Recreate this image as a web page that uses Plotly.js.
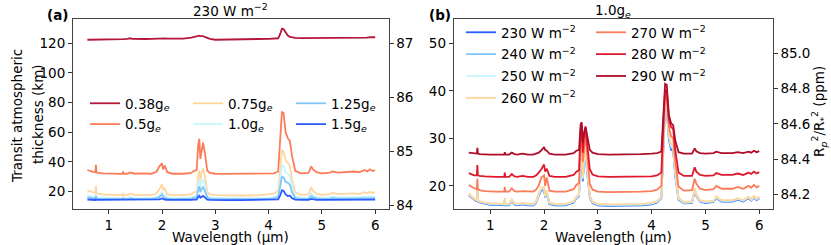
<!DOCTYPE html>
<html>
<head>
<meta charset="utf-8">
<script src="https://cdn.plot.ly/plotly-3.0.1.min.js"></script>
<style>html,body{margin:0;padding:0;background:#fff;}#chart{width:831px;height:245px;}</style>
</head>
<body>
<div id="chart"></div>
<script>
// Wavelength grid (µm)
const wavelength = [0.60,0.65,0.70,0.75,0.76,0.77,0.80,0.90,1.00,1.10,1.20,1.26,1.27,1.28,1.35,1.40,1.45,1.50,1.60,1.70,1.80,1.85,1.90,1.95,2.00,2.02,2.05,2.10,2.20,2.40,2.55,2.60,2.65,2.68,2.70,2.72,2.74,2.77,2.80,2.85,2.90,3.00,3.20,3.50,3.80,4.00,4.10,4.18,4.22,4.25,4.28,4.32,4.36,4.40,4.44,4.50,4.60,4.75,4.80,4.83,4.90,5.00,5.15,5.20,5.30,5.50,5.60,5.70,5.80,5.85,5.90,5.95,6.00];

// Panel (a): 230 W m^-2, transit atmospheric thickness (km)
const gravityLabels = ["0.38g<sub><i>e</i></sub>","0.5g<sub><i>e</i></sub>","0.75g<sub><i>e</i></sub>","1.0g<sub><i>e</i></sub>","1.25g<sub><i>e</i></sub>","1.5g<sub><i>e</i></sub>"];
const g038 = [122.4,122.4,122.4,122.5,122.7,122.5,122.5,122.6,122.6,122.7,122.7,122.8,122.9,122.8,123.0,123.4,123.0,122.9,122.9,122.9,123.0,123.1,123.4,123.5,123.6,123.4,123.3,123.1,123.0,123.2,123.8,124.2,124.6,124.9,125.2,124.8,125.0,124.9,124.3,123.6,123.0,122.4,122.4,122.7,122.9,123.0,123.1,123.4,126.5,129.8,129.6,127.0,125.2,124.4,123.9,123.6,123.5,123.5,123.7,123.6,123.5,123.5,123.6,123.7,123.6,123.7,123.8,123.7,124.0,123.8,124.2,123.9,124.1];
const g05 = [34.5,33.8,33.2,33.0,38.0,33.0,32.6,32.2,32.0,31.9,31.9,32.0,33.5,32.0,32.0,32.8,32.2,32.0,32.2,31.9,32.0,32.5,33.5,37.0,39.0,35.0,37.5,33.0,32.0,32.0,32.6,34.0,34.5,52.0,55.5,42.0,48.0,53.0,47.0,34.0,32.5,32.0,31.9,31.9,31.9,32.0,32.3,33.5,55.0,73.5,73.0,60.0,56.0,54.0,44.0,34.0,32.3,32.5,37.0,35.0,33.0,32.3,32.8,33.5,32.8,33.0,33.5,33.0,34.5,33.5,35.0,33.8,34.5];
const g075 = [20.8,20.0,19.5,19.0,24.0,19.0,18.5,18.0,17.7,17.5,17.5,17.6,19.0,17.6,17.6,18.5,17.8,17.6,17.6,17.5,17.6,18.0,19.0,21.5,25.0,21.0,22.0,18.0,17.5,17.5,18.2,19.5,20.0,31.0,34.0,27.0,32.0,35.5,31.0,20.0,18.0,17.5,17.3,17.3,17.4,17.8,18.5,20.5,36.0,47.5,47.0,41.0,39.5,37.0,28.0,19.5,17.8,18.0,23.0,20.5,18.5,17.8,18.2,19.0,18.2,18.3,18.8,18.3,19.5,18.8,19.8,19.0,19.5];
const g10 = [17.3,16.8,16.4,16.2,18.5,16.2,16.0,15.8,15.7,15.6,15.6,15.6,16.5,15.6,15.6,16.2,15.7,15.6,15.6,15.6,15.6,15.9,16.5,17.5,20.0,18.0,17.5,16.0,15.6,15.6,16.0,16.8,17.2,26.0,28.5,23.0,26.0,28.0,25.0,17.0,16.0,15.6,15.5,15.5,15.5,15.7,16.2,17.5,29.0,37.5,37.0,33.0,32.0,30.0,23.0,16.8,15.8,15.9,19.0,17.5,16.2,15.8,16.0,16.5,16.0,16.0,16.3,16.0,16.6,16.2,16.8,16.3,16.6];
const g125 = [16.0,15.6,15.3,15.2,17.0,15.2,15.1,15.0,14.9,14.9,14.9,14.9,15.6,14.9,14.9,15.3,15.0,14.9,14.9,14.9,14.9,15.1,15.5,16.2,18.0,16.5,16.0,15.1,14.9,14.9,15.2,15.7,16.0,21.0,23.5,19.5,21.5,23.0,21.0,15.8,15.2,14.9,14.8,14.8,14.8,14.9,15.3,16.2,24.0,30.0,29.5,26.5,26.0,24.5,19.5,15.6,15.0,15.1,17.0,16.0,15.3,15.0,15.2,15.5,15.2,15.2,15.4,15.2,15.6,15.3,15.7,15.4,15.6];
const g15 = [14.6,14.5,14.4,14.3,15.0,14.3,14.3,14.3,14.2,14.2,14.2,14.2,14.5,14.2,14.2,14.4,14.2,14.2,14.2,14.2,14.2,14.3,14.4,14.7,15.3,14.8,14.6,14.3,14.2,14.2,14.3,14.5,14.6,16.5,17.2,15.8,16.5,17.0,16.2,14.5,14.3,14.2,14.2,14.2,14.2,14.2,14.4,14.7,17.5,20.8,20.5,18.0,17.0,17.2,15.5,14.5,14.3,14.3,15.0,14.7,14.4,14.3,14.3,14.5,14.3,14.3,14.4,14.3,14.5,14.4,14.6,14.4,14.5];

// Panel (b): 1.0g_e, different instellations
const fluxLabels = ["230 W m<sup>−2</sup>","240 W m<sup>−2</sup>","250 W m<sup>−2</sup>","260 W m<sup>−2</sup>","270 W m<sup>−2</sup>","280 W m<sup>−2</sup>","290 W m<sup>−2</sup>"];
const f230 = [18.0,17.5,17.0,16.7,19.0,16.7,16.5,16.2,16.0,16.0,15.9,15.9,17.0,15.9,15.9,16.8,16.1,15.9,16.1,15.9,15.9,16.4,18.0,19.0,19.2,17.6,18.5,16.2,15.9,15.9,16.5,17.4,17.8,26.0,26.5,21.0,24.5,26.8,23.0,17.6,16.4,15.9,15.8,15.8,15.9,16.1,16.5,17.4,29.5,36.5,36.3,29.8,27.6,27.5,22.0,17.1,16.3,16.4,19.0,17.9,16.7,16.4,16.6,17.4,16.7,16.7,17.1,16.7,17.4,16.9,17.5,17.0,17.4];
const f240 = [18.1,17.6,17.1,16.8,19.2,16.8,16.6,16.3,16.1,16.1,16.0,16.0,17.2,16.0,16.0,16.9,16.2,16.0,16.2,16.0,16.0,16.5,18.2,19.2,19.4,17.7,18.7,16.3,16.0,16.0,16.6,17.5,17.9,26.5,27.0,21.3,24.8,27.2,23.3,17.7,16.5,16.0,15.9,15.9,16.0,16.2,16.6,17.5,29.8,37.0,36.8,30.2,28.0,27.8,22.3,17.2,16.4,16.5,19.2,18.0,16.8,16.5,16.7,17.5,16.8,16.8,17.2,16.8,17.5,17.0,17.6,17.1,17.5];
const f250 = [18.2,17.7,17.2,16.9,19.5,16.9,16.7,16.4,16.2,16.2,16.1,16.1,17.3,16.1,16.1,17.0,16.3,16.1,16.3,16.1,16.1,16.6,18.3,19.3,19.6,17.8,18.8,16.4,16.1,16.1,16.7,17.6,18.0,27.0,27.5,21.6,25.1,27.6,23.6,17.8,16.6,16.1,16.0,16.0,16.1,16.3,16.7,17.6,30.2,37.5,37.3,30.6,28.4,28.1,22.6,17.3,16.5,16.6,19.3,18.1,16.9,16.6,16.8,17.6,16.9,16.9,17.3,16.9,17.6,17.1,17.7,17.2,17.6];
const f260 = [18.4,17.8,17.3,17.0,19.8,17.0,16.8,16.5,16.3,16.3,16.2,16.2,17.5,16.2,16.2,17.2,16.4,16.2,16.4,16.2,16.2,16.8,18.5,19.5,19.8,18.0,19.0,16.5,16.2,16.2,16.8,17.8,18.2,27.5,28.0,22.0,25.5,28.0,24.0,18.0,16.7,16.2,16.1,16.1,16.2,16.4,16.8,17.8,30.5,38.0,37.8,31.0,28.8,28.5,23.0,17.5,16.6,16.7,19.5,18.3,17.0,16.7,16.9,17.8,17.0,17.0,17.4,17.0,17.7,17.2,17.9,17.3,17.8];
const f270 = [20.2,19.8,19.5,19.3,21.5,19.3,19.1,18.9,18.8,18.8,18.8,18.8,19.8,18.8,18.8,19.5,18.9,18.8,18.9,18.8,18.8,19.2,20.0,21.8,22.2,20.0,21.8,19.0,18.8,18.8,19.3,20.2,20.6,30.0,31.0,25.0,28.0,30.5,27.0,20.5,19.2,18.8,18.7,18.7,18.8,18.9,19.2,20.0,32.0,39.0,38.8,32.5,30.5,30.0,25.0,19.8,19.0,19.1,21.5,20.5,19.4,19.1,19.3,20.0,19.4,19.4,19.8,19.4,20.0,19.6,20.2,19.7,20.0];
const f280 = [22.7,22.4,22.2,22.2,24.4,22.2,22.1,22.0,21.9,21.9,21.9,21.9,22.8,21.9,21.9,22.5,22.0,21.9,22.1,21.9,21.9,22.2,22.8,23.5,24.5,23.0,23.6,22.1,21.9,21.9,22.3,23.0,23.3,32.0,32.6,27.0,30.0,32.2,29.0,23.5,22.4,22.0,21.9,21.9,21.9,22.0,22.2,22.8,34.0,40.2,40.0,34.0,32.4,32.0,27.5,22.8,22.1,22.1,23.9,23.0,22.3,22.1,22.2,22.7,22.3,22.3,22.6,22.3,22.8,22.5,23.0,22.6,22.9];
const f290 = [27.0,26.9,26.8,26.8,28.0,26.8,26.7,26.6,26.6,26.6,26.6,26.6,27.1,26.6,26.6,27.0,26.7,26.6,26.8,26.6,26.6,26.8,27.0,27.5,28.2,27.6,27.4,26.8,26.6,26.6,26.9,27.4,27.6,33.0,33.4,29.0,31.0,32.5,30.5,27.6,27.0,26.7,26.6,26.6,26.7,26.8,26.9,27.2,36.0,41.5,41.3,35.0,33.2,32.8,29.5,27.1,26.8,26.8,27.9,27.3,26.9,26.8,26.9,27.2,26.9,26.9,27.1,26.9,27.2,27.0,27.4,27.1,27.3];

// Axis ticks
const xTicks = [1,2,3,4,5,6];
const aLeftTicks = [20,40,60,80,100,120];
const aRightTicks = [84,85,86,87];
const bLeftTicks = [20,30,40,50];
const bRightTicks = [84.2,84.4,84.6,84.8,85.0];

const gravityColors = ["#b5163a","#fc7b58","#fed69e","#c8f6ff","#80c6f6","#2a5cff"];
const fluxColors = ["#2a5cff","#80c6f6","#c8f6ff","#fed69e","#fc7b58","#e0182e","#b00d2a"];

const W = 831, H = 245;
const px = v => v / W, py = v => 1 - v / H;
const FS = 13.5, FONT = "'DejaVu Sans', sans-serif";

const aSeries = [g038, g05, g075, g10, g125, g15];
const aLegends = ["legend","legend","legend2","legend2","legend3","legend3"];
const bSeries = [f230, f240, f250, f260, f270, f280, f290];
const bLegends = ["legend4","legend4","legend4","legend4","legend5","legend5","legend5"];

const traces = [];
aSeries.forEach((s, i) => traces.push({
  x: wavelength, y: s, type: "scatter", mode: "lines", name: gravityLabels[i],
  line: {color: gravityColors[i], width: 1.8}, xaxis: "x", yaxis: "y", legend: aLegends[i], legendgroup: "a" + i
}));
bSeries.forEach((s, i) => traces.push({
  x: wavelength, y: s, type: "scatter", mode: "lines", name: fluxLabels[i],
  line: {color: fluxColors[i], width: 1.8}, xaxis: "x2", yaxis: "y3", legend: bLegends[i], legendgroup: "b" + i
}));
traces.push({x: [], y: [], xaxis: "x", yaxis: "y2", showlegend: false, hoverinfo: "skip"});
traces.push({x: [], y: [], xaxis: "x2", yaxis: "y4", showlegend: false, hoverinfo: "skip"});

const axCommon = {
  ticks: "outside", ticklen: 4, tickwidth: 1, tickcolor: "#333",
  showline: true, linecolor: "#444", linewidth: 1, showgrid: false, zeroline: false,
  tickfont: {family: FONT, size: FS, color: "#000"}, fixedrange: true
};
const yDom = [py(209), py(19)];

const legCommon = {
  bgcolor: "rgba(0,0,0,0)", borderwidth: 0, font: {family: FONT, size: FS, color: "#000"},
  xanchor: "left", yanchor: "top", orientation: "v", traceorder: "grouped"
};

const layout = {
  width: W, height: H,
  margin: {l: 0, r: 0, t: 0, b: 0, pad: 0},
  paper_bgcolor: "#fff", plot_bgcolor: "#fff",
  font: {family: FONT, size: FS, color: "#000"},
  xaxis: Object.assign({}, axCommon, {domain: [px(73), px(388.5)], range: [0.33, 6.25], anchor: "y", mirror: true, tickvals: xTicks, ticklabelstandoff: 2.5}),
  yaxis: Object.assign({}, axCommon, {domain: yDom, range: [8.2, 136.4], anchor: "x", tickvals: aLeftTicks}),
  yaxis2: Object.assign({}, axCommon, {overlaying: "y", side: "right", anchor: "x", range: [83.94, 87.45], tickvals: aRightTicks}),
  xaxis2: Object.assign({}, axCommon, {domain: [px(453.7), px(772.7)], range: [0.32, 6.25], anchor: "y3", mirror: true, tickvals: xTicks, ticklabelstandoff: 2.5}),
  yaxis3: Object.assign({}, axCommon, {domain: yDom, range: [15.13, 55.15], anchor: "x2", tickvals: bLeftTicks}),
  yaxis4: Object.assign({}, axCommon, {overlaying: "y3", side: "right", anchor: "x2", range: [84.116, 85.196], tickvals: bRightTicks, tickformat: ".1f"}),
  legend: Object.assign({}, legCommon, {x: px(85), y: py(88), tracegroupgap: 0.3}),
  legend2: Object.assign({}, legCommon, {x: px(188), y: py(88), tracegroupgap: 0.3}),
  legend3: Object.assign({}, legCommon, {x: px(291), y: py(88), tracegroupgap: 0.3}),
  legend4: Object.assign({}, legCommon, {x: px(461), y: py(17), tracegroupgap: 1.3}),
  legend5: Object.assign({}, legCommon, {x: px(591), y: py(17), tracegroupgap: 1.3}),
  annotations: [
    {text: "<b>(a)</b>", x: px(57), y: py(15), xref: "paper", yref: "paper", showarrow: false, xanchor: "center", yanchor: "middle", font: {family: FONT, size: FS}},
    {text: "230 W m<sup>−2</sup>", x: px(230.7), y: py(10), xref: "paper", yref: "paper", showarrow: false, xanchor: "center", yanchor: "middle", font: {family: FONT, size: FS}},
    {text: "<b>(b)</b>", x: px(440), y: py(15), xref: "paper", yref: "paper", showarrow: false, xanchor: "center", yanchor: "middle", font: {family: FONT, size: FS}},
    {text: "1.0g<sub><i>e</i></sub>", x: px(613.2), y: py(11), xref: "paper", yref: "paper", showarrow: false, xanchor: "center", yanchor: "middle", font: {family: FONT, size: FS}},
    {text: "Wavelength (µm)", x: px(230.7), y: py(237), xref: "paper", yref: "paper", showarrow: false, xanchor: "center", yanchor: "middle", font: {family: FONT, size: FS}},
    {text: "Wavelength (µm)", x: px(613.2), y: py(237), xref: "paper", yref: "paper", showarrow: false, xanchor: "center", yanchor: "middle", font: {family: FONT, size: FS}},
    {text: "Transit atmospheric", x: px(17), y: py(116), xref: "paper", yref: "paper", showarrow: false, textangle: -90, xanchor: "center", yanchor: "middle", font: {family: FONT, size: FS}},
    {text: "thickness (km)", x: px(38), y: py(114), xref: "paper", yref: "paper", showarrow: false, textangle: -90, xanchor: "center", yanchor: "middle", font: {family: FONT, size: FS}},
    {text: "R<sub><i>p</i></sub><sup>2</sup>/R<sub>*</sub><sup>2</sup> (ppm)", x: px(819), y: py(112), xref: "paper", yref: "paper", showarrow: false, textangle: -90, xanchor: "center", yanchor: "middle", font: {family: FONT, size: FS}}
  ],
  showlegend: true
};

Plotly.newPlot("chart", traces, layout, {staticPlot: true, displayModeBar: false});
</script>
</body>
</html>
